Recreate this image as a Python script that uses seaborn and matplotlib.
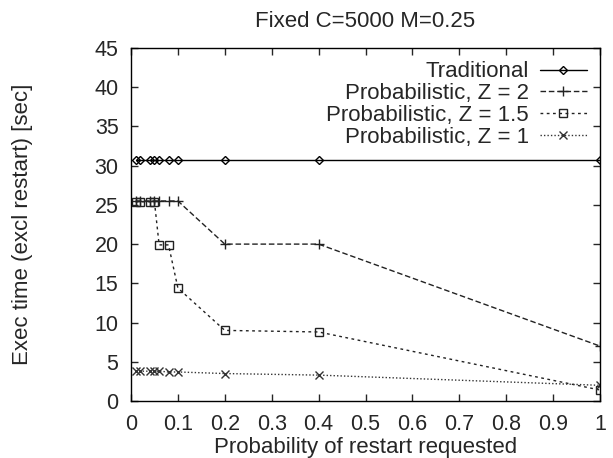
import matplotlib
matplotlib.use("Agg")
import matplotlib.pyplot as plt
import seaborn as sns
import pandas as pd

# data
prob = [0.01, 0.02, 0.04, 0.05, 0.06, 0.08, 0.1, 0.2, 0.4, 1.0]
traditional = [30.7, 30.7, 30.7, 30.7, 30.7, 30.7, 30.7, 30.7, 30.7, 30.7]
z2 = [25.5, 25.5, 25.5, 25.5, 25.5, 25.5, 25.5, 20.0, 20.0, 7.0]
z15 = [25.4, 25.4, 25.4, 25.4, 19.9, 19.9, 14.4, 9.0, 8.8, 1.4]
z1 = [3.8, 3.8, 3.8, 3.8, 3.8, 3.7, 3.7, 3.5, 3.3, 2.0]

series = {
    "Traditional": traditional,
    "Probabilistic, Z = 2": z2,
    "Probabilistic, Z = 1.5": z15,
    "Probabilistic, Z = 1": z1,
}
df = pd.DataFrame(
    [(p, v, name) for name, vals in series.items() for p, v in zip(prob, vals)],
    columns=["prob", "time", "series"],
)

sns.set_style("ticks")
plt.rcParams["font.family"] = ["Liberation Sans", "DejaVu Sans"]
fs = 16

fig = plt.figure(figsize=(6.13, 4.58), dpi=100)
ax = fig.add_axes([131 / 613, 1 - 401 / 458, 469 / 613, 353 / 458])

styles = {
    "Traditional": dict(ls="-", marker="D", ms=4.5, color="black", lw=1.0),
    "Probabilistic, Z = 2": dict(ls=(0, (4, 2)), marker="+", ms=6.5, color="#222222", lw=1.0),
    "Probabilistic, Z = 1.5": dict(ls=(0, (2, 2.5)), marker="s", ms=5.5, color="#222222", lw=1.0),
    "Probabilistic, Z = 1": dict(ls=(0, (1, 1.5)), marker="x", ms=5.5, color="#333333", lw=1.0),
}
for name in series:
    st = styles[name]
    sns.lineplot(
        data=df[df["series"] == name], x="prob", y="time", ax=ax, label=name,
        color=st["color"], linestyle=st["ls"], marker=st["marker"],
        markersize=st["ms"], linewidth=st["lw"],
        markerfacecolor="none", markeredgecolor=st["color"], markeredgewidth=1.0,
    )

ax.set_xlim(0, 1)
ax.set_ylim(0, 45)
ax.set_xticks([0, 0.1, 0.2, 0.3, 0.4, 0.5, 0.6, 0.7, 0.8, 0.9, 1])
ax.set_xticklabels(["0", "0.1", "0.2", "0.3", "0.4", "0.5", "0.6", "0.7", "0.8", "0.9", "1"])
ax.set_yticks(range(0, 50, 5))
ax.tick_params(direction="in", top=True, right=True, length=5, width=1, labelsize=15.5)
ax.tick_params(axis="x", pad=9)
ax.tick_params(axis="y", pad=9)
for sp in ax.spines.values():
    sp.set_linewidth(1.0)
    sp.set_color("black")

ax.set_title("Fixed C=5000 M=0.25", fontsize=fs, pad=15)
ax.set_xlabel("Probability of restart requested", fontsize=fs, labelpad=2)
ax.set_ylabel("Exec time (excl restart) [sec]", fontsize=fs, labelpad=44)

ax.legend(loc="upper right", bbox_to_anchor=(1.0, 1.0), frameon=False,
          markerfirst=False, handlelength=2.1, fontsize=fs,
          labelspacing=0.04, handletextpad=0.5, borderaxespad=0.2)

fig.savefig("out.png", dpi=100)
